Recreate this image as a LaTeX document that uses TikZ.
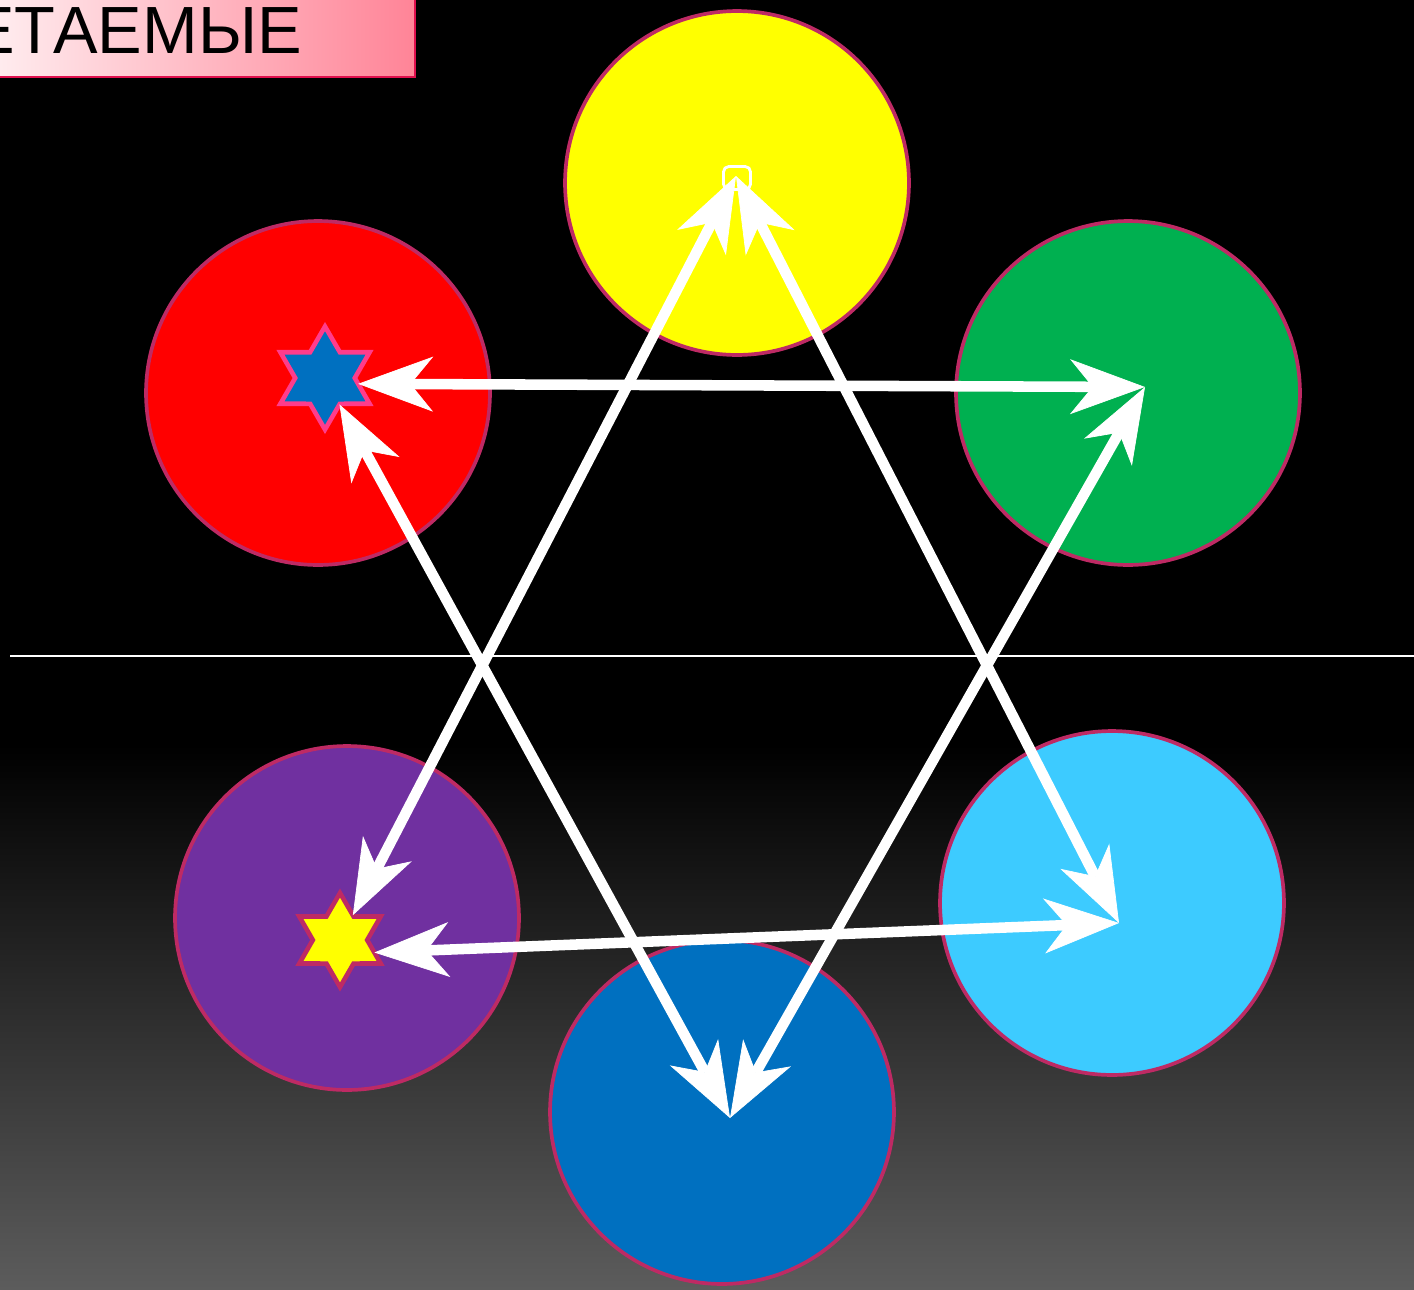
\documentclass[tikz,border=0pt]{standalone}
\usepackage{fontspec}
\setmainfont{Liberation Sans}
\usetikzlibrary{arrows.meta,shapes.geometric}
\definecolor{rim}{HTML}{BE2A64}
\definecolor{sunny}{HTML}{FFFF00}
\definecolor{scarlet}{HTML}{FF0000}
\definecolor{leaf}{HTML}{00B050}
\definecolor{plum}{HTML}{7030A0}
\definecolor{sky}{HTML}{3DCBFF}
\definecolor{ocean}{HTML}{0070C0}
\definecolor{starrim}{HTML}{FF3C8C}
\definecolor{pinklight}{HTML}{FFF0F2}
\definecolor{pinkdark}{HTML}{FF8497}
\definecolor{boxrim}{HTML}{E0104E}
\definecolor{bottomgray}{HTML}{5C5C5C}
\tikzset{
  disc/.style={circle,draw=rim,line width=2.1pt,minimum size=6.88cm,inner sep=0pt},
  hexstar/.style={star,star points=6,star point ratio=1.73,inner sep=0pt,outer sep=0pt,line width=2.6pt},
  link/.style={{Stealth[length=1.5cm,width=1.1cm,inset=0.45cm,line width=0.4pt]}-{Stealth[length=1.5cm,width=1.1cm,inset=0.45cm,line width=0.4pt]},
    draw=white,line width=6pt},
  divider/.style={draw=white,line width=1.3pt}
}
\begin{document}
\begin{tikzpicture}[x=0.02cm,y=-0.02cm]
  \useasboundingbox (0,0) rectangle (1414,1289);
  % background
  \fill[black] (0,0) rectangle (1414,746);
  \shade[top color=black,bottom color=bottomgray] (0,745) rectangle (1414,1289);
  \draw[divider] (10,656) -- (1414,656);
  % title
  \shade[left color=pinklight,right color=pinkdark,draw=boxrim,line width=1.2pt] (-20,-20) rectangle (415,77);
  \node[anchor=base east,font=\fontsize{38}{40}\selectfont,inner sep=0pt] (title) at (302,53) {ЕТАЕМЫЕ};
  % colour discs
  \node[disc,fill=sunny] (yellow) at (737,183) {};
  \node[disc,fill=scarlet] (red) at (318,393) {};
  \node[disc,fill=leaf] (green) at (1128,393) {};
  \node[disc,fill=plum] (violet) at (347,918) {};
  \node[disc,fill=sky] (cyan) at (1112,903) {};
  \node[disc,fill=ocean] (blue) at (722,1112) {};
  % stars
  \node[hexstar,fill=ocean,draw=starrim,minimum size=2.06cm] (rstar) at (325,378) {};
  \node[hexstar,fill=sunny,draw=rim,minimum size=1.88cm] (vstar) at (340,940) {};
  \node[draw=white,line width=1.6pt,rounded corners=3pt,minimum width=0.54cm,minimum height=0.46cm,inner sep=0pt] (glyph) at (737,178) {};
  % aims
  \coordinate (yaim) at (736,176);
  \coordinate (gaim) at (1145,387);
  \coordinate (caim) at (1119,923);
  \coordinate (baim) at (730,1118);
  % links
  \draw[link] (yaim) -- (vstar);
  \draw[link] (yaim) -- (caim);
  \draw[link] (rstar.-10) -- (gaim);
  \draw[link] (rstar) -- (baim);
  \draw[link] (gaim) -- (baim);
  \draw[link] (vstar.-20) -- (caim);
\end{tikzpicture}
\end{document}
